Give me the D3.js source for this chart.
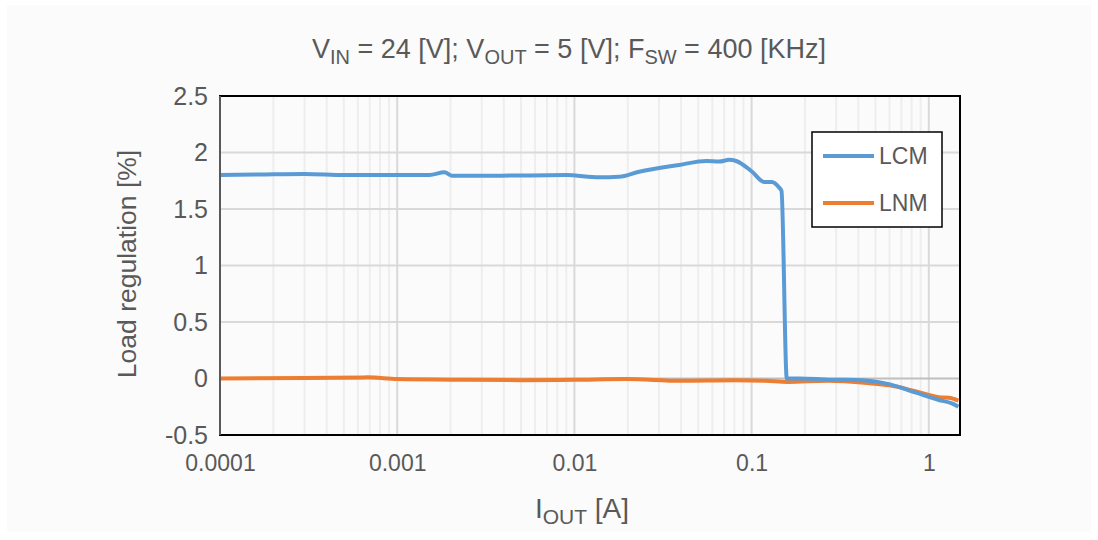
<!DOCTYPE html>
<html>
<head>
  <meta charset="utf-8">
  <title>Load regulation</title>
  <script src="https://d3js.org/d3.v7.min.js"></script>
  <style>
    body { margin: 0; background: #fff; }
    text { font-family: "Liberation Sans", Arial, sans-serif; fill: #595959; }
  </style>
</head>
<body>
<script>
  // current [A] vs load regulation [%]
  var lcmI = [0.0001, 0.000168, 0.0003, 0.000506, 0.00103, 0.00152, 0.00185, 0.00203, 0.00378, 0.009,
              0.0138, 0.0179, 0.0232, 0.039, 0.0555, 0.0656, 0.0747, 0.0818, 0.1007, 0.1175,
              0.130, 0.143, 0.1475, 0.158, 0.185, 0.273, 0.42, 0.596, 0.846, 1.138, 1.349, 1.47];
  var lcmV = [1.80, 1.805, 1.81, 1.80, 1.80, 1.80, 1.825, 1.795, 1.795, 1.80,
              1.78, 1.785, 1.83, 1.89, 1.925, 1.92, 1.935, 1.925, 1.83, 1.74,
              1.74, 1.69, 1.66, 0.0, 0.0, -0.01, -0.015, -0.05, -0.125, -0.19, -0.22, -0.25];

  var lnmI = [0.0001, 0.0003, 0.00068, 0.001, 0.002, 0.005, 0.01, 0.0196, 0.04, 0.08,
              0.12, 0.16, 0.27, 0.45, 0.6, 0.85, 1.14, 1.3, 1.47];
  var lnmV = [0.0, 0.005, 0.01, -0.005, -0.01, -0.015, -0.012, -0.005, -0.02, -0.015,
              -0.02, -0.03, -0.02, -0.04, -0.06, -0.115, -0.165, -0.17, -0.195];

  var xTicks = [0.0001, 0.001, 0.01, 0.1, 1];
  var xTickLabels = ["0.0001", "0.001", "0.01", "0.1", "1"];
  var yTicks = [-0.5, 0, 0.5, 1, 1.5, 2, 2.5];
  var yTickLabels = ["-0.5", "0", "0.5", "1", "1.5", "2", "2.5"];
  var seriesNames = ["LCM", "LNM"];
  var seriesColors = ["#5b9bd5", "#ed7d31"];

  var W = 1098, H = 540;
  var pl = 220, pr = 960, pt = 96, pb = 435;

  var svg = d3.select("body").append("svg").attr("width", W).attr("height", H);

  svg.append("rect").attr("x", 7).attr("y", 5).attr("width", 1084).attr("height", 527)
    .attr("fill", "#fbfbfb");

  var x = d3.scaleLog().domain([0.0001, 1.5]).range([pl, pr]);
  var y = d3.scaleLinear().domain([-0.5, 2.5]).range([pb, pt]);

  // minor gridlines
  var minor = [];
  for (var e = -4; e <= 0; e++) {
    for (var m = 2; m <= 9; m++) {
      var v = m * Math.pow(10, e);
      if (v < 1.5) minor.push(v);
    }
  }
  svg.append("g").selectAll("line").data(minor).enter().append("line")
    .attr("x1", function(d) { return x(d); }).attr("x2", function(d) { return x(d); })
    .attr("y1", pt).attr("y2", pb)
    .attr("stroke", "#eeeeee").attr("stroke-width", 2);

  svg.append("g").selectAll("line").data(xTicks.slice(1)).enter().append("line")
    .attr("x1", function(d) { return x(d); }).attr("x2", function(d) { return x(d); })
    .attr("y1", pt).attr("y2", pb)
    .attr("stroke", "#d9d9d9").attr("stroke-width", 2);

  svg.append("g").selectAll("line").data(yTicks.slice(1, -1)).enter().append("line")
    .attr("x1", pl).attr("x2", pr)
    .attr("y1", function(d) { return y(d); }).attr("y2", function(d) { return y(d); })
    .attr("stroke", function(d) { return d === 0 ? "#bfbfbf" : "#d9d9d9"; })
    .attr("stroke-width", 2);

  // series
  var line = d3.line().x(function(d) { return x(d[0]); }).y(function(d) { return y(d[1]); })
    .curve(d3.curveMonotoneX);
  var series = [d3.zip(lcmI, lcmV), d3.zip(lnmI, lnmV)];
  svg.append("g").selectAll("path").data([series[1], series[0]]).enter().append("path")
    .attr("d", line)
    .attr("fill", "none")
    .attr("stroke", function(d, i) { return i === 0 ? seriesColors[1] : seriesColors[0]; })
    .attr("stroke-width", 4)
    .attr("stroke-linejoin", "round");

  // frame
  svg.append("rect").attr("x", pl).attr("y", pt)
    .attr("width", pr - pl).attr("height", pb - pt)
    .attr("fill", "none").attr("stroke", "#000").attr("stroke-width", 2);
  svg.append("line").attr("x1", pl).attr("x2", pl).attr("y1", pt).attr("y2", pb)
    .attr("stroke", "#595959").attr("stroke-width", 2);

  // axes
  var xAxis = d3.axisBottom(x).tickValues(xTicks)
    .tickFormat(function(d, i) { return xTickLabels[i]; }).tickSize(0).tickPadding(20);
  var gx = svg.append("g").attr("transform", "translate(0," + pb + ")").call(xAxis);
  gx.select(".domain").remove();
  gx.selectAll("text").attr("font-size", 23).attr("font-family", null).attr("fill", null);

  var yAxis = d3.axisLeft(y).tickValues(yTicks)
    .tickFormat(function(d, i) { return yTickLabels[i]; }).tickSize(0).tickPadding(12);
  var gy = svg.append("g").attr("transform", "translate(" + pl + ",0)").call(yAxis);
  gy.select(".domain").remove();
  gy.selectAll("text").attr("font-size", 25).attr("font-family", null).attr("fill", null);

  // title
  var t = svg.append("text").attr("x", 569).attr("y", 58).attr("text-anchor", "middle")
    .attr("font-size", 27);
  t.append("tspan").text("V");
  t.append("tspan").attr("font-size", 20).attr("dy", 6).text("IN");
  t.append("tspan").attr("dy", -6).text(" = 24 [V]; V");
  t.append("tspan").attr("font-size", 20).attr("dy", 6).text("OUT");
  t.append("tspan").attr("dy", -6).text(" = 5 [V]; F");
  t.append("tspan").attr("font-size", 20).attr("dy", 6).text("SW");
  t.append("tspan").attr("dy", -6).text(" = 400 [KHz]");

  // axis titles
  var xt = svg.append("text").attr("x", 582).attr("y", 518).attr("text-anchor", "middle")
    .attr("font-size", 28);
  xt.append("tspan").text("I");
  xt.append("tspan").attr("font-size", 21).attr("dy", 6).text("OUT");
  xt.append("tspan").attr("dy", -6).text(" [A]");

  svg.append("text").attr("transform", "translate(136,264) rotate(-90)")
    .attr("text-anchor", "middle").attr("font-size", 26.5).text("Load regulation [%]");

  // legend
  var lg = svg.append("g").attr("transform", "translate(812,132)");
  lg.append("rect").attr("width", 130).attr("height", 95)
    .attr("fill", "#fff").attr("stroke", "#000").attr("stroke-width", 1.5);
  lg.selectAll("line.k").data(seriesNames).enter().append("line")
    .attr("x1", 11).attr("x2", 62)
    .attr("y1", function(d, i) { return 24 + i * 47; }).attr("y2", function(d, i) { return 24 + i * 47; })
    .attr("stroke", function(d, i) { return seriesColors[i]; }).attr("stroke-width", 4);
  lg.selectAll("text").data(seriesNames).enter().append("text")
    .attr("x", 67).attr("y", function(d, i) { return 24 + i * 47 + 8; })
    .attr("font-size", 23).text(function(d) { return d; });
</script>
</body>
</html>
